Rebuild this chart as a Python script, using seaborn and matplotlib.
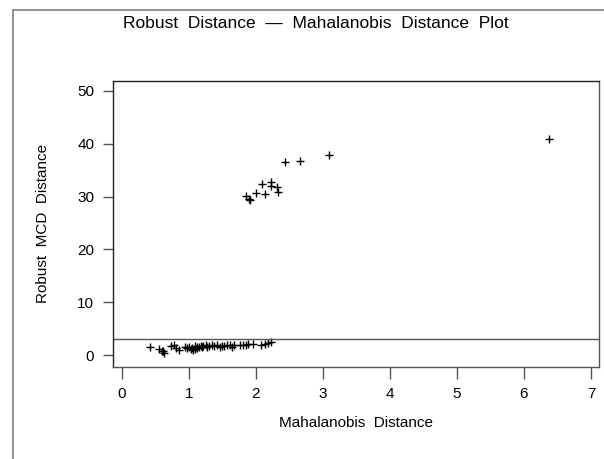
import matplotlib
matplotlib.use("Agg")
import matplotlib.pyplot as plt
from matplotlib.lines import Line2D
import seaborn as sns
import pandas as pd

# ---- data ----
mahal_high = [2.44, 2.66, 2.09, 2.22, 2.22, 2.31, 2.00, 2.14, 2.33, 1.85, 1.90, 1.91, 3.09, 6.38]
robust_high = [36.6, 36.7, 32.3, 32.8, 32.0, 31.9, 30.6, 30.5, 30.9, 30.2, 29.5, 29.4, 37.9, 41.0]

mahal_low = [0.42, 0.56, 0.60, 0.63, 0.74, 0.78, 0.81, 0.85, 0.95, 0.98, 1.01, 1.05, 1.07,
             1.09, 1.12, 1.15, 1.18, 1.22, 1.26, 1.30, 1.34, 1.38, 1.42, 1.46, 1.53, 1.57,
             1.61, 1.64, 1.68, 1.76, 1.81, 1.85, 1.89, 1.96, 2.08, 2.14, 2.19, 2.22,
             1.03, 1.10, 1.13, 1.20, 0.62, 1.28, 1.50]
robust_low = [1.46, 1.08, 0.82, 0.44, 1.76, 1.83, 1.39, 0.95, 1.58, 1.33, 1.58, 1.26, 0.95,
              1.70, 1.46, 1.58, 1.76, 1.70, 1.83, 1.76, 1.83, 1.76, 1.83, 1.58, 1.76, 1.83,
              1.89, 1.58, 1.95, 1.83, 1.83, 1.89, 2.02, 2.14, 1.89, 2.08, 2.33, 2.46,
              1.10, 1.20, 1.30, 1.45, 0.70, 1.55, 1.70]

cutoff = 3.06
x_ticks = [0, 1, 2, 3, 4, 5, 6, 7]
y_ticks = [0, 10, 20, 30, 40, 50]

title_text = "Robust  Distance  \u2014  Mahalanobis  Distance  Plot"
x_label = "Mahalanobis  Distance"
y_label = "Robust  MCD  Distance"

df = pd.DataFrame({
    "md": mahal_high + mahal_low,
    "rd": robust_high + robust_low,
})

sns.set_theme(style="white")
plt.rcParams["font.family"] = ["Liberation Sans", "DejaVu Sans"]

W, H = 604, 459
fig = plt.figure(figsize=(W / 100, H / 100), dpi=100)
ax = fig.add_axes([112.7 / W, 1 - 366.7 / H, (599 - 112.7) / W, (366.7 - 80.7) / H])

sns.scatterplot(data=df, x="md", y="rd", marker="+", color="black", s=30,
                linewidth=1.0, ax=ax, legend=False)

ax.axhline(cutoff, color="#555555", linewidth=1.0)

ax.set_xlim(-0.134, 7.12)
ax.set_ylim(-2.2, 51.95)
ax.set_xticks(x_ticks)
ax.set_yticks(y_ticks)
ax.set_xticklabels([str(t) for t in x_ticks])
ax.set_yticklabels([str(t) for t in y_ticks])

ax.tick_params(axis="x", direction="out", length=8.6, width=1.0, color="#555555",
               pad=6, labelsize=11, labelcolor="black", bottom=True)
ax.tick_params(axis="y", direction="out", length=7.2, width=1.0, color="#555555",
               pad=6, labelsize=11, labelcolor="black", left=True)

for name, sp in ax.spines.items():
    sp.set_visible(True)
    sp.set_linewidth(1.0)
    sp.set_color("#222222" if name in ("left", "top") else "#555555")

ax.set_xlabel("")
ax.set_ylabel("")
fig.text(356 / W, 1 - 423 / H, x_label, ha="center", va="center", fontsize=11, color="black")
fig.text(43 / W, 1 - 223.7 / H, y_label, ha="center", va="center", rotation=90,
         fontsize=11, color="black")
fig.text(316 / W, 1 - 24 / H, title_text, ha="center", va="center", fontsize=12.5, color="black")

# outer frame (left and top edges visible)
fig.add_artist(Line2D([13 / W, 13 / W], [0, 1 - 10 / H], transform=fig.transFigure,
                      color="#808080", linewidth=1.2))
fig.add_artist(Line2D([13 / W, 1], [1 - 10 / H, 1 - 10 / H], transform=fig.transFigure,
                      color="#808080", linewidth=1.2))

fig.savefig("out.png", dpi=100, facecolor="white")
